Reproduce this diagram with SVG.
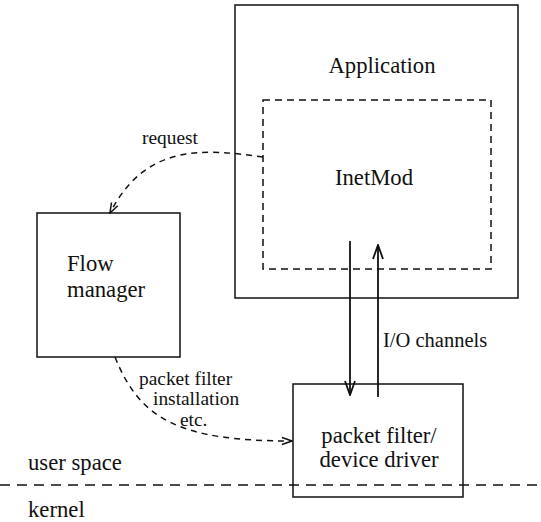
<svg xmlns="http://www.w3.org/2000/svg" width="541" height="522" viewBox="0 0 541 522">
<style>
text{fill:#111}
.big{font-size:22.7px}
.small{font-size:19.4px}
.box{fill:none;stroke:#111;stroke-width:1.5}
.dash{fill:none;stroke:#111;stroke-width:1.5;stroke-dasharray:7,5}
.conn{fill:none;stroke:#111;stroke-width:1.8}
.dconn{fill:none;stroke:#111;stroke-width:1.5;stroke-dasharray:6,5}
</style>
<defs>
<marker id="vee" markerWidth="16" markerHeight="12" refX="15" refY="6" orient="auto" markerUnits="userSpaceOnUse">
<path d="M1,1 L15,6 L1,11" fill="none" stroke="#111" stroke-width="1.8"/>
</marker>
<marker id="svee" markerWidth="12" markerHeight="10" refX="11" refY="5" orient="auto" markerUnits="userSpaceOnUse">
<path d="M1,1.5 L11,5 L1,8.5" fill="none" stroke="#111" stroke-width="1.5"/>
</marker>
</defs>
<rect width="541" height="522" fill="#fff"/>
<g font-family="Liberation Serif, DejaVu Serif, serif">
<g id="application">
<rect class="box" x="235" y="5" width="283" height="293"/>
<text class="big" x="382" y="73" text-anchor="middle">Application</text>
</g>
<g id="inetmod">
<rect class="dash" x="263" y="100" width="228" height="169"/>
<text class="big" x="374" y="185" text-anchor="middle">InetMod</text>
</g>
<g id="flow-manager">
<rect class="box" x="37" y="213" width="143" height="144"/>
<text class="big" x="67" y="271">Flow</text>
<text class="big" x="67" y="297">manager</text>
</g>
<g id="packet-filter">
<rect class="box" x="293" y="384" width="170" height="113"/>
<text class="big" x="379" y="443" text-anchor="middle">packet filter/</text>
<text class="big" x="379" y="467" text-anchor="middle">device driver</text>
</g>
<g id="boundary">
<line class="dash" x1="0" y1="485" x2="541" y2="485" style="stroke-dasharray:10,7"/>
<text class="big" x="28" y="470">user space</text>
<text class="big" x="28" y="517">kernel</text>
</g>

<g id="connectors">
<path class="dconn" d="M263,157 C200,148 145,145 110,213" marker-end="url(#svee)"/>
<text class="small" x="142" y="144">request</text>
<path class="dconn" d="M115,357 C140,420 180,441 292,441" marker-end="url(#svee)"/>
<text class="small" x="139" y="385">packet filter</text>
<text class="small" x="153" y="405">installation</text>
<text class="small" x="180" y="426">etc.</text>
<line class="conn" x1="350" y1="241" x2="350" y2="395" marker-end="url(#vee)"/>
<line class="conn" x1="378" y1="397" x2="378" y2="245" marker-end="url(#vee)"/>
<text class="small" x="383" y="347" style="font-size:20.5px">I/O channels</text>
</g>
</g>
</svg>
